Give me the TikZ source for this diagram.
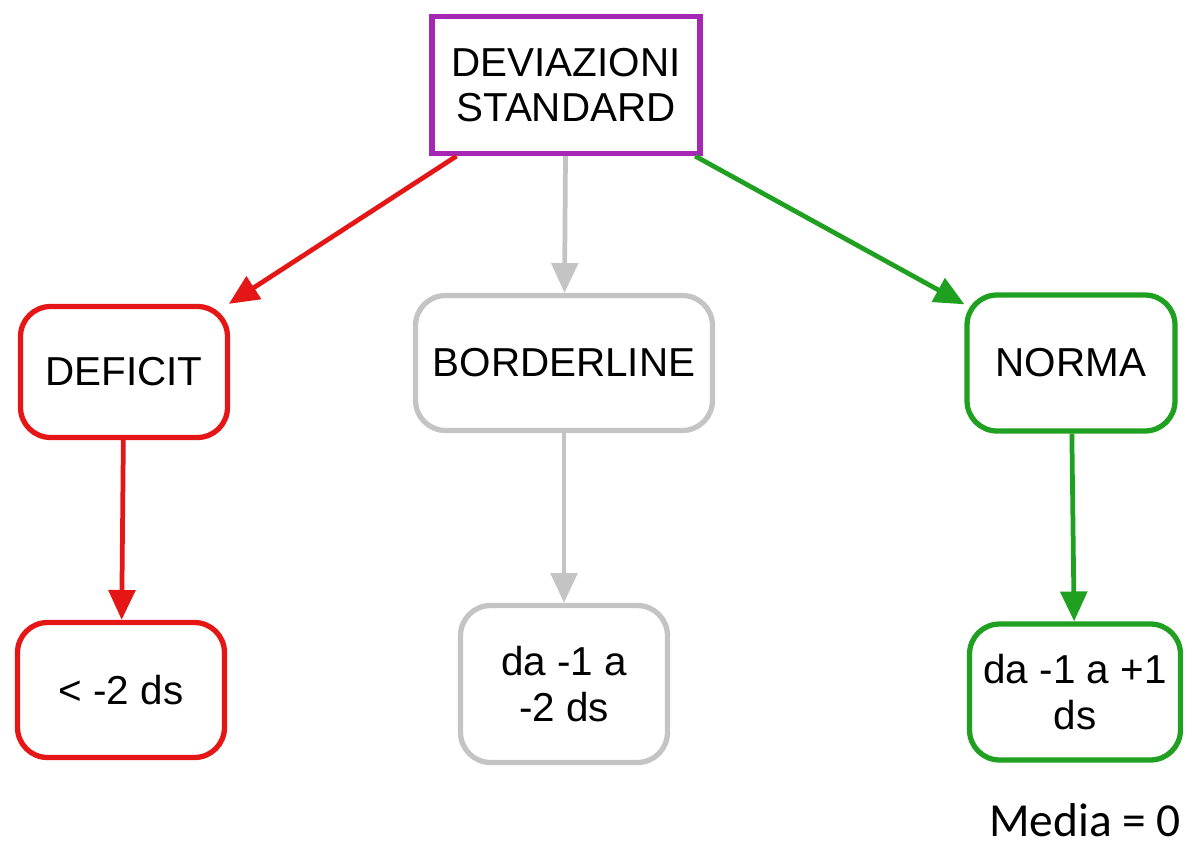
\documentclass[tikz,border=0pt]{standalone}
\usepackage{fontspec}
\setmainfont{Liberation Sans}
\newfontfamily\calib{Carlito}
\usetikzlibrary{arrows.meta}
\definecolor{cpurple}{RGB}{164,40,180}
\definecolor{cred}{RGB}{228,22,22}
\definecolor{cgreen}{RGB}{32,160,32}
\definecolor{cgray}{RGB}{196,196,196}
\tikzset{
  box/.style={draw, line width=3pt, fill=white, align=center, inner sep=0pt,
    font=\fontsize{23}{26}\selectfont, text=black},
  rbox/.style={box, rounded corners=0.6cm},
  conn/.style={line width=2.7pt, -{Triangle[length=17pt,width=15pt]}},
}
\begin{document}
\begin{tikzpicture}[x=0.02cm, y=-0.02cm]
\useasboundingbox (0,0) rectangle (1185,848);
\node[box, draw=cpurple, minimum width=5.36cm, minimum height=2.74cm] (top) at (566,85) {DEVIAZIONI\\STANDARD};
\node[rbox, draw=cred, minimum width=4.14cm, minimum height=2.62cm] (deficit) at (124,372) {DEFICIT};
\node[rbox, draw=cgray, minimum width=5.94cm, minimum height=2.7cm] (border) at (564,363) {BORDERLINE};
\node[rbox, draw=cgreen, minimum width=4.16cm, minimum height=2.72cm] (norma) at (1071,363) {NORMA};
\node[rbox, draw=cred, minimum width=4.14cm, minimum height=2.7cm] (lt) at (121,690) {< -2 ds};
\node[rbox, draw=cgray, minimum width=4.14cm, minimum height=3.14cm] (da12) at (564,684) {da -1 a\\-2 ds};
\node[rbox, draw=cgreen, minimum width=4.22cm, minimum height=2.72cm] (da11) at (1075,692) {da -1 a +1\\ds};
\node[anchor=base, inner sep=0pt, font=\calib\fontsize{27}{32}\selectfont] (media) at (1085,836) {Media = 0};
\draw[conn, cred] (top) -- (deficit);
\draw[conn, cgray] (top) -- (border);
\draw[conn, cgreen] (top) -- (norma);
\draw[conn, cred] (deficit) -- (lt);
\draw[conn, cgray] (border) -- (da12);
\draw[conn, cgreen] (norma) -- (da11);
\end{tikzpicture}
\end{document}
